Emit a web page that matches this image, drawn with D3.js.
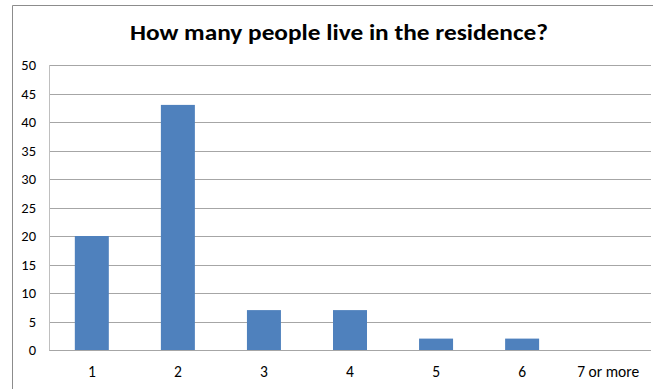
<!DOCTYPE html>
<html><head><meta charset="utf-8">
<script src="https://cdn.jsdelivr.net/npm/d3@7"></script>
<style>body{margin:0;background:#fff}svg{display:block}</style>
</head><body>
<script>
const title = "How many people live in the residence?";
const categories = ["1","2","3","4","5","6","7 or more"];
const values = [20,43,7,7,2,2,0];
const yTicks = [0,5,10,15,20,25,30,35,40,45,50];

const W = 653, H = 389;
const m = {left:49, top:65, right:2, bottom:39};
const svg = d3.select("body").append("svg").attr("width",W).attr("height",H);
const font = "Carlito, Calibri, 'Liberation Sans', Arial, sans-serif";

// outer frame
svg.append("path").attr("d",`M12.5,${H} V5.5 H${W}`).attr("fill","none").attr("stroke","#8c8c8c");

const x = d3.scaleBand().domain(categories).range([m.left, W-m.right]).paddingInner(0.605).paddingOuter(0.3);
const y = d3.scaleLinear().domain([0,50]).range([H-m.bottom, m.top]);

// gridlines
svg.append("g").selectAll("line").data(yTicks).join("line")
  .attr("x1",m.left).attr("x2",W-m.right)
  .attr("y1",d=>Math.round(y(d))+0.5).attr("y2",d=>Math.round(y(d))+0.5)
  .attr("stroke","#a6a6a6").attr("stroke-width",1);

// left axis line
svg.append("line").attr("x1",m.left+0.5).attr("x2",m.left+0.5)
  .attr("y1",m.top).attr("y2",Math.round(y(0))+0.5).attr("stroke","#bfbfbf");

// bars
svg.append("g").selectAll("rect").data(values).join("rect")
  .attr("x",(d,i)=>x(categories[i]))
  .attr("width",x.bandwidth())
  .attr("y",d=>y(d)).attr("height",d=>y(0)-y(d))
  .attr("fill","#4f81bd");

// y axis
const yAxis = d3.axisLeft(y).tickValues(yTicks).tickSize(0).tickPadding(13);
const ga = svg.append("g").attr("transform",`translate(${m.left},0)`).call(yAxis);
ga.select(".domain").remove();
ga.selectAll("text").attr("font-family",font).attr("font-size",14.5).attr("fill","#000");

// x axis
const xAxis = d3.axisBottom(x).tickSize(0).tickPadding(16);
const gx = svg.append("g").attr("transform",`translate(0,${y(0)})`).call(xAxis);
gx.select(".domain").remove();
gx.selectAll("text").attr("font-family",font).attr("font-size",15.5).attr("fill","#000");

// title
svg.append("text").attr("x",339).attr("y",40).attr("text-anchor","middle")
  .attr("font-family",font).attr("font-weight","bold").attr("font-size",22.5)
  .attr("textLength",418).attr("lengthAdjust","spacingAndGlyphs")
  .text(title);
</script>
</body></html>
